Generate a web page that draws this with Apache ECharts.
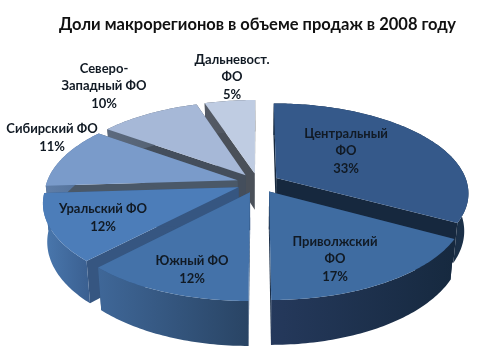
<!DOCTYPE html>
<html><head><meta charset="utf-8">
<style>html,body{margin:0;padding:0;background:#fff}#c{width:500px;height:360px}</style>
<script src="https://cdn.jsdelivr.net/npm/echarts@6/dist/echarts.min.js"></script>
</head><body><div id="c"></div>
<script>
const categories = ['Центральный\nФО','Приволжский\nФО','Южный ФО','Уральский ФО','Сибирский ФО','Северо-\nЗападный ФО','Дальневост.\nФО'];
const shares = [33,17,12,12,11,10,5];
const chartTitle = 'Доли макрорегионов в объеме продаж в 2008 году';

const topColors = ['#35598a','#3f6ca1','#4472a9','#4c7db9','#7a9bca','#a6b8d7','#bfcce2'];
const wallLeft  = ['#16293f','#25395c','#3f6798','#4a78ae','#5f7ea8','#5c6a7e','#555b66'];
const wallRight = ['#1b3048','#16293f','#294464','#3a5f90','#4d6a92','#4e5a6a','#4a5058'];
const radialWall = ['#16283e','#1b2f49','#31547f','#365681','#4a5868','#444e5c','#4a5059'];
const labelLayout = [[346,151],[335,259],[192,270],[103,218],[52,138],[104,86],[232,77]];

const FONT = 'Lato, "Open Sans", sans-serif';
const CX=258, CY=183, A=191, B=88, P=0.16, EXPLODE=0.112, DEPTH=37, BASE_X=0.98;
const rad = d => d*Math.PI/180;

function project(wx, wy, low){
  const s = 1/(1-P*wy);
  const x = CX + A*wx*s*(low?BASE_X:1);
  const y = CY + B*wy*s + (low?DEPTH*s:0);
  return [x,y];
}
const total = shares.reduce((a,b)=>a+b,0);
const startAngles = shares.map((_,i)=>shares.slice(0,i).reduce((a,b)=>a+b,0)/total*360);

function renderItem(params, api){
  const i = params.dataIndex, v = api.value(0);
  const a0 = startAngles[i], a1 = a0 + v/total*360, mid = rad((a0+a1)/2);
  const ox = EXPLODE*Math.sin(mid), oy = -EXPLODE*Math.cos(mid);
  const rim = (deg,low)=>project(ox+Math.sin(rad(deg)), oy-Math.cos(rad(deg)), low);
  const apexT = project(ox,oy,false), apexB = project(ox,oy,true);
  const arc=[], steps=Math.max(8,Math.ceil(a1-a0));
  for(let k=0;k<=steps;k++) arc.push(a0+(a1-a0)*k/steps);
  const z = Math.round(-Math.cos(mid)*100)+200;
  const grad = new echarts.graphic.LinearGradient(0,0,1,0,[{offset:0,color:wallLeft[i]},{offset:1,color:wallRight[i]}]);
  const children=[
    {type:'polygon',z2:z,shape:{points:[apexT,rim(a0,false),rim(a0,true),apexB]},style:{fill:radialWall[i]}},
    {type:'polygon',z2:z,shape:{points:[apexT,rim(a1,false),rim(a1,true),apexB]},style:{fill:radialWall[i]}},
    {type:'polygon',z2:z+1,shape:{points:arc.map(d=>rim(d,false)).concat(arc.slice().reverse().map(d=>rim(d,true)))},style:{fill:grad}},
    {type:'polygon',z2:z+2,shape:{points:[apexT].concat(arc.map(d=>rim(d,false)))},style:{fill:topColors[i]}},
    {type:'text',z2:1000,style:{x:labelLayout[i][0],y:labelLayout[i][1],text:categories[i]+'\n'+v+'%',
      align:'center',verticalAlign:'middle',font:'bold 13px '+FONT,lineHeight:17.5,fill:'#111a24'}}
  ];
  return {type:'group',children};
}

const chart = echarts.init(document.getElementById('c'),null,{renderer:'canvas'});
chart.setOption({
  animation:false,
  backgroundColor:'#fff',
  title:{text:chartTitle,left:54,top:11,textStyle:{fontFamily:FONT,fontWeight:'bold',fontSize:16.5,color:'#111'}},
  series:[{type:'custom',coordinateSystem:'none',renderItem,data:shares.map(v=>[v])}]
});
</script></body></html>
